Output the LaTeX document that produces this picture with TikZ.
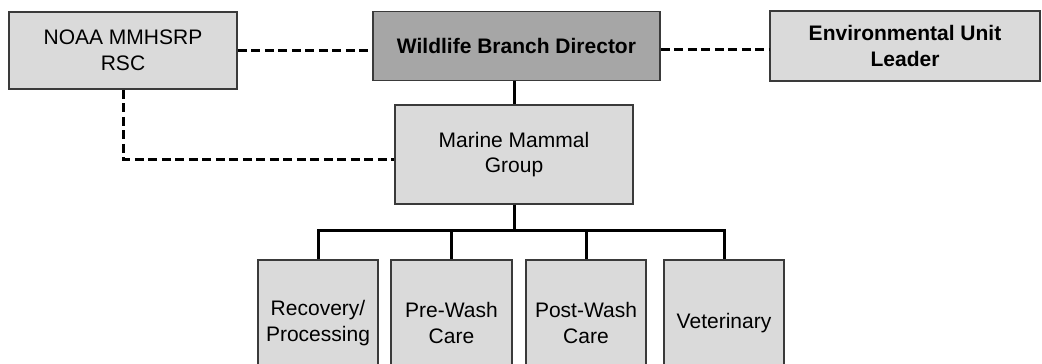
\documentclass[tikz,border=0pt]{standalone}
\usepackage{fontspec}
\setmainfont{Liberation Sans}
\usetikzlibrary{calc}

\definecolor{boxgray}{HTML}{DADADA}
\definecolor{headgray}{HTML}{A6A6A6}
\definecolor{edgegray}{HTML}{3A3A3A}

\tikzset{
  unitbox/.style={draw=edgegray, line width=1.5pt, fill=boxgray, align=center,
    inner sep=2pt, font=\fontsize{21}{25.5}\selectfont},
  linkline/.style={line width=3pt, black},
  advline/.style={line width=3pt, black, dash pattern=on 9pt off 4.5pt}
}

\begin{document}
\begin{tikzpicture}[x=1pt, y=-1pt]
    \clip (0,0) rectangle (1042,364);

    % top row
    \node[unitbox, minimum width=228pt, minimum height=77pt] (noaa) at (123,50.5) {NOAA MMHSRP\\RSC};
    \node[unitbox, fill=headgray, minimum width=287pt, minimum height=69pt, font=\fontsize{21}{25.5}\selectfont\bfseries] (director) at (516.5,46) {Wildlife Branch Director};
    \node[unitbox, minimum width=270pt, minimum height=70pt, font=\fontsize{21}{25.5}\selectfont\bfseries] (envlead) at (905,46) {Environmental Unit\\Leader};

    % group
    \node[unitbox, minimum width=238pt, minimum height=99pt] (marine) at (514,154.5) {Marine Mammal\\Group};

    % units
    \node[unitbox, minimum width=120pt, minimum height=126pt] (recovery) at (318,323) {Recovery/\\Processing};
    \node[unitbox, minimum width=121pt, minimum height=126pt] (prewash) at (451.5,323) {Pre-Wash\\Care};
    \node[unitbox, minimum width=120pt, minimum height=126pt] (postwash) at (586,323) {Post-Wash\\Care};
    \node[unitbox, minimum width=120pt, minimum height=126pt] (vet) at (724,323) {Veterinary};

    % solid links
    \draw[linkline] (marine.north |- director.south) -- (marine.north);
    \foreach \unit in {recovery, prewash, postwash, vet}
        \draw[linkline] (marine.south) -- ++(0,26) -| (\unit.north);

    % dashed links
    \draw[advline] ([yshift=-4pt]director.west -| noaa.east) -- ([yshift=-4pt]director.west);
    \draw[advline] ([yshift=-3pt]director.east) -- ([yshift=-3pt]director.east -| envlead.west);
    \draw[advline] (noaa.south) |- ([yshift=-4.5pt]marine.west);
\end{tikzpicture}
\end{document}
